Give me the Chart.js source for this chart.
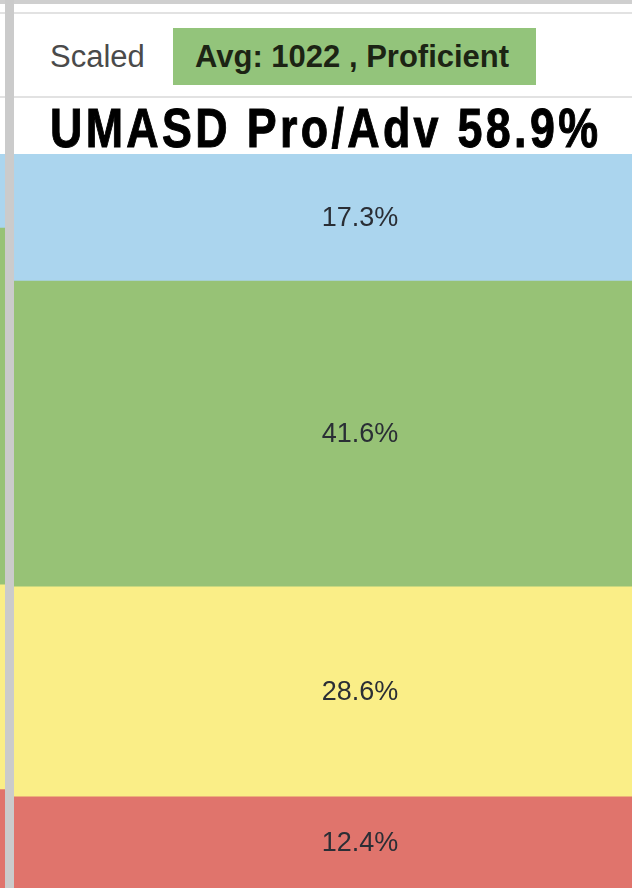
<!DOCTYPE html>
<html>
<head>
<meta charset="utf-8">
<script src="https://cdn.jsdelivr.net/npm/chart.js@4.4.1/dist/chart.umd.min.js"></script>
<style>
    html, body { margin: 0; padding: 0; background: #fff; }
    body { width: 632px; height: 888px; overflow: hidden; position: relative; font-family: "Liberation Sans", Arial, sans-serif; }
    .topBand { position: absolute; left: 0; top: 0; width: 632px; height: 4px; background: #cfcfcf; }
    .rule { position: absolute; left: 0; width: 632px; height: 2px; background: #e2e2e2; }
    .scaled { position: absolute; left: 50px; top: 38px; font-size: 31px; color: #4a4a4a; line-height: 38px; }
    .avgBox { position: absolute; left: 173px; top: 28px; width: 363px; height: 57px; background: #93c47b; }
    .avgText { position: absolute; left: 195px; top: 38px; font-size: 31px; font-weight: bold; color: #1c2414; line-height: 38px; white-space: nowrap; }
    .title { position: absolute; left: 50px; top: 96px; font-family: "Liberation Sans", Arial, sans-serif; font-weight: bold; font-size: 56px; line-height: 64px; color: #000; white-space: nowrap; transform-origin: 0 0; -webkit-text-stroke: 1px #000; }
    .chartWrap { position: absolute; top: 154px; height: 734px; }
    #mainWrap { left: 14px; width: 692px; }
    #sideWrap { left: -100px; width: 105px; }
    .divider { position: absolute; left: 5px; top: 0; width: 9px; height: 888px; background: #cbcbcb; z-index: 5; }
</style>
</head>
<body>
<div class="topBand"></div>
<div class="rule" style="top:12px"></div>
<div class="scaled">Scaled</div>
<div class="avgBox"></div>
<div class="avgText" id="avgText">Avg: 1022 , Proficient</div>
<div class="rule" style="top:96px"></div>
<div class="title" id="title">UMASD Pro/Adv 58.9%</div>
<div class="chartWrap" id="sideWrap"><canvas id="sideChart"></canvas></div>
<div class="chartWrap" id="mainWrap"><canvas id="mainChart"></canvas></div>
<div class="divider"></div>

<script>
// Performance levels (bottom to top)
const levels = ['Below Basic', 'Basic', 'Proficient', 'Advanced'];
const levelColors = ['#e0746c', '#faee87', '#97c276', '#abd5ee'];

// UMASD percentages
const umasdValues = [12.4, 28.6, 41.6, 17.3];

// Neighbouring bar, only a sliver visible at the left edge
const sideValues = [13.4, 27.9, 48.6, 10.1];

// Title: narrow glyphs, wide spacing
(function() {
    const el = document.getElementById('title');
    const squeeze = 0.8;
    const target = 548 / squeeze;
    const w = el.getBoundingClientRect().width;
    el.style.letterSpacing = ((target - w) / (el.textContent.length - 1)) + 'px';
    el.style.transform = 'scaleX(' + squeeze + ')';
})();

// Draw percent labels in the middle of each segment
const segmentLabels = {
    id: 'segmentLabels',
    afterDatasetsDraw(chart, args, opts) {
        if (!opts.show) return;
        const ctx = chart.ctx;
        ctx.save();
        ctx.font = '27px "Liberation Sans", Arial, sans-serif';
        ctx.fillStyle = '#2a2e35';
        ctx.textAlign = 'center';
        ctx.textBaseline = 'middle';
        chart.data.datasets.forEach((ds, i) => {
            const bar = chart.getDatasetMeta(i).data[0];
            const mid = (bar.y + bar.base) / 2;
            ctx.fillText(ds.data[0].toFixed(1) + '%', bar.x, mid + 1);
        });
        ctx.restore();
    }
};

function buildChart(canvasId, values, showLabels) {
    const total = values.reduce((s, v) => s + v, 0);
    return new Chart(document.getElementById(canvasId), {
        type: 'bar',
        data: {
            labels: [''],
            datasets: levels.map((lvl, i) => ({
                label: lvl,
                data: [values[i]],
                backgroundColor: levelColors[i],
                borderWidth: 0,
                barPercentage: 1,
                categoryPercentage: 1
            }))
        },
        options: {
            responsive: true,
            maintainAspectRatio: false,
            animation: false,
            layout: { padding: 0 },
            scales: {
                x: { stacked: true, display: false },
                y: { stacked: true, display: false, min: 0, max: total }
            },
            plugins: {
                legend: { display: false },
                tooltip: { enabled: false },
                segmentLabels: { show: showLabels }
            }
        },
        plugins: [segmentLabels]
    });
}

buildChart('sideChart', sideValues, false);
buildChart('mainChart', umasdValues, true);
</script>
</body>
</html>
